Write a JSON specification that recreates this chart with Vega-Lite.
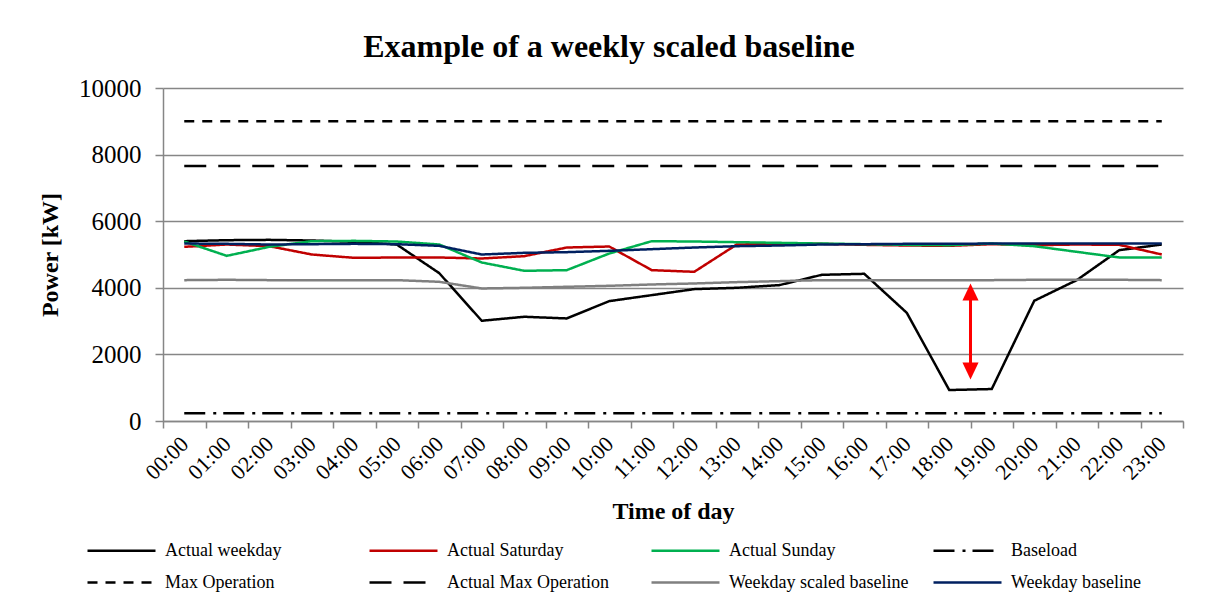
{
  "$schema": "https://vega.github.io/schema/vega-lite/v6.json",
  "autosize": "none",
  "width": 1020,
  "height": 333,
  "padding": {"left": 163, "top": 88, "right": 22, "bottom": 189},
  "background": "white",
  "title": {
    "text": "Example of a weekly scaled baseline",
    "font": "Liberation Serif",
    "fontSize": 32,
    "fontWeight": "bold",
    "color": "#000000",
    "anchor": "middle",
    "frame": "group",
    "dx": -64,
    "offset": 12
  },
  "config": {
    "view": {"stroke": null},
    "font": "Liberation Serif"
  },
  "datasets": {
    "power": [
      {"t": "00:00", "wd": 5400, "sat": 5230, "sun": 5390, "baseload": 230, "maxop": 9000, "actmax": 7660, "scaled": 4230, "baseline": 5330},
      {"t": "01:00", "wd": 5430, "sat": 5300, "sun": 4960, "baseload": 230, "maxop": 9000, "actmax": 7660, "scaled": 4240, "baseline": 5320},
      {"t": "02:00", "wd": 5440, "sat": 5250, "sun": 5230, "baseload": 230, "maxop": 9000, "actmax": 7660, "scaled": 4230, "baseline": 5300},
      {"t": "03:00", "wd": 5420, "sat": 5000, "sun": 5400, "baseload": 230, "maxop": 9000, "actmax": 7660, "scaled": 4230, "baseline": 5310},
      {"t": "04:00", "wd": 5380, "sat": 4900, "sun": 5410, "baseload": 230, "maxop": 9000, "actmax": 7660, "scaled": 4230, "baseline": 5320},
      {"t": "05:00", "wd": 5300, "sat": 4910, "sun": 5390, "baseload": 230, "maxop": 9000, "actmax": 7660, "scaled": 4230, "baseline": 5310},
      {"t": "06:00", "wd": 4440, "sat": 4910, "sun": 5300, "baseload": 230, "maxop": 9000, "actmax": 7660, "scaled": 4180, "baseline": 5260},
      {"t": "07:00", "wd": 3010, "sat": 4880, "sun": 4760, "baseload": 230, "maxop": 9000, "actmax": 7660, "scaled": 3980, "baseline": 5000},
      {"t": "08:00", "wd": 3130, "sat": 4950, "sun": 4510, "baseload": 230, "maxop": 9000, "actmax": 7660, "scaled": 4000, "baseline": 5050},
      {"t": "09:00", "wd": 3080, "sat": 5210, "sun": 4530, "baseload": 230, "maxop": 9000, "actmax": 7660, "scaled": 4030, "baseline": 5070},
      {"t": "10:00", "wd": 3600, "sat": 5240, "sun": 5030, "baseload": 230, "maxop": 9000, "actmax": 7660, "scaled": 4060, "baseline": 5110},
      {"t": "11:00", "wd": 3780, "sat": 4530, "sun": 5400, "baseload": 230, "maxop": 9000, "actmax": 7660, "scaled": 4100, "baseline": 5160},
      {"t": "12:00", "wd": 3960, "sat": 4480, "sun": 5390, "baseload": 230, "maxop": 9000, "actmax": 7660, "scaled": 4130, "baseline": 5210},
      {"t": "13:00", "wd": 4000, "sat": 5300, "sun": 5370, "baseload": 230, "maxop": 9000, "actmax": 7660, "scaled": 4170, "baseline": 5250},
      {"t": "14:00", "wd": 4080, "sat": 5320, "sun": 5350, "baseload": 230, "maxop": 9000, "actmax": 7660, "scaled": 4200, "baseline": 5270},
      {"t": "15:00", "wd": 4390, "sat": 5320, "sun": 5330, "baseload": 230, "maxop": 9000, "actmax": 7660, "scaled": 4230, "baseline": 5300},
      {"t": "16:00", "wd": 4420, "sat": 5290, "sun": 5310, "baseload": 230, "maxop": 9000, "actmax": 7660, "scaled": 4230, "baseline": 5310},
      {"t": "17:00", "wd": 3250, "sat": 5270, "sun": 5290, "baseload": 230, "maxop": 9000, "actmax": 7660, "scaled": 4230, "baseline": 5320},
      {"t": "18:00", "wd": 930, "sat": 5260, "sun": 5280, "baseload": 230, "maxop": 9000, "actmax": 7660, "scaled": 4230, "baseline": 5320},
      {"t": "19:00", "wd": 960, "sat": 5310, "sun": 5330, "baseload": 230, "maxop": 9000, "actmax": 7660, "scaled": 4230, "baseline": 5330},
      {"t": "20:00", "wd": 3610, "sat": 5280, "sun": 5250, "baseload": 230, "maxop": 9000, "actmax": 7660, "scaled": 4240, "baseline": 5330},
      {"t": "21:00", "wd": 4230, "sat": 5300, "sun": 5080, "baseload": 230, "maxop": 9000, "actmax": 7660, "scaled": 4240, "baseline": 5330},
      {"t": "22:00", "wd": 5130, "sat": 5290, "sun": 4910, "baseload": 230, "maxop": 9000, "actmax": 7660, "scaled": 4240, "baseline": 5330},
      {"t": "23:00", "wd": 5300, "sat": 5000, "sun": 4910, "baseload": 230, "maxop": 9000, "actmax": 7660, "scaled": 4230, "baseline": 5330}
    ],
    "arrow": [
      {"t": "19:00", "low": 1550, "high": 3830, "tipTop": 4130, "tipBottom": 1250}
    ]
  },
  "layer": [
    {
      "data": {"name": "power"},
      "transform": [
        {"fold": ["wd", "sat", "sun", "baseload", "maxop", "actmax", "scaled", "baseline"], "as": ["series", "power"]}
      ],
      "mark": {"type": "line", "strokeWidth": 2.5, "strokeCap": "butt"},
      "encoding": {
        "x": {
          "field": "t", "type": "ordinal", "bandPosition": 0.5,
          "scale": {"type": "band", "paddingInner": 0, "paddingOuter": 0,
            "domain": ["00:00","01:00","02:00","03:00","04:00","05:00","06:00","07:00","08:00","09:00","10:00","11:00","12:00","13:00","14:00","15:00","16:00","17:00","18:00","19:00","20:00","21:00","22:00","23:00"]},
          "axis": {
            "title": "Time of day",
            "titleFont": "Liberation Serif", "titleFontSize": 24, "titleFontWeight": "bold", "titleColor": "#000000", "titlePadding": 16,
            "labelFont": "Liberation Serif", "labelFontSize": 22, "labelColor": "#000000",
            "labelAngle": -45, "labelAlign": "right", "labelBaseline": "middle", "labelPadding": 12,
            "tickBand": "extent", "tickSize": 7, "tickColor": "#868686", "tickWidth": 1.5,
            "domainColor": "#868686", "domainWidth": 1.5, "grid": false
          }
        },
        "y": {
          "field": "power", "type": "quantitative",
          "scale": {"domain": [0, 10000], "nice": false},
          "axis": {
            "title": "Power [kW]",
            "titleFont": "Liberation Serif", "titleFontSize": 24, "titleFontWeight": "bold", "titleColor": "#000000", "titlePadding": 16,
            "labelFont": "Liberation Serif", "labelFontSize": 25, "labelColor": "#000000", "labelPadding": 14,
            "values": [0, 2000, 4000, 6000, 8000, 10000], "format": "d",
            "tickSize": 8, "tickColor": "#868686", "tickWidth": 1.5,
            "domainColor": "#868686", "domainWidth": 1.5,
            "grid": true, "gridColor": "#868686", "gridWidth": 1.5
          }
        },
        "color": {
          "field": "series", "type": "nominal",
          "scale": {
            "domain": ["wd", "sat", "sun", "baseload", "maxop", "actmax", "scaled", "baseline"],
            "range": ["#000000", "#C00000", "#00B050", "#000000", "#000000", "#000000", "#808080", "#002060"]
          },
          "legend": {
            "title": null,
            "orient": "none", "legendX": -77, "legendY": 451,
            "direction": "horizontal", "columns": 4, "gridAlign": "all",
            "padding": 0, "columnPadding": 19, "rowPadding": 11,
            "symbolType": "M-1,0L5.8,0", "symbolSize": 400, "symbolStrokeWidth": 2.5, "symbolFillColor": "transparent",
            "labelFont": "Liberation Serif", "labelFontSize": 18, "labelColor": "#000000", "labelOffset": 56, "labelLimit": 300,
            "labelExpr": "{'wd':'Actual weekday','sat':'Actual Saturday','sun':'Actual Sunday','baseload':'Baseload','maxop':'Max Operation','actmax':'Actual Max Operation','scaled':'Weekday scaled baseline','baseline':'Weekday baseline'}[datum.label]"
          }
        },
        "strokeDash": {
          "field": "series", "type": "nominal",
          "scale": {
            "domain": ["wd", "sat", "sun", "baseload", "maxop", "actmax", "scaled", "baseline"],
            "range": [[1, 0], [1, 0], [1, 0], [21, 8, 3, 7], [10, 8], [22, 12], [1, 0], [1, 0]]
          }
        },
        "order": {"field": "t"}
      }
    },
    {
      "data": {"name": "arrow"},
      "mark": {"type": "rule", "color": "#FF0000", "strokeWidth": 3},
      "encoding": {
        "x": {"field": "t", "type": "ordinal", "bandPosition": 0},
        "y": {"field": "low", "type": "quantitative"},
        "y2": {"field": "high"}
      }
    },
    {
      "data": {"name": "arrow"},
      "mark": {"type": "point", "shape": "M0,0L0.95,2L-0.95,2Z", "filled": true, "color": "#FF0000", "opacity": 1, "size": 289, "strokeWidth": 0},
      "encoding": {
        "x": {"field": "t", "type": "ordinal", "bandPosition": 0},
        "y": {"field": "tipTop", "type": "quantitative"}
      }
    },
    {
      "data": {"name": "arrow"},
      "mark": {"type": "point", "shape": "M0,0L0.95,-2L-0.95,-2Z", "filled": true, "color": "#FF0000", "opacity": 1, "size": 289, "strokeWidth": 0},
      "encoding": {
        "x": {"field": "t", "type": "ordinal", "bandPosition": 0},
        "y": {"field": "tipBottom", "type": "quantitative"}
      }
    }
  ]
}
